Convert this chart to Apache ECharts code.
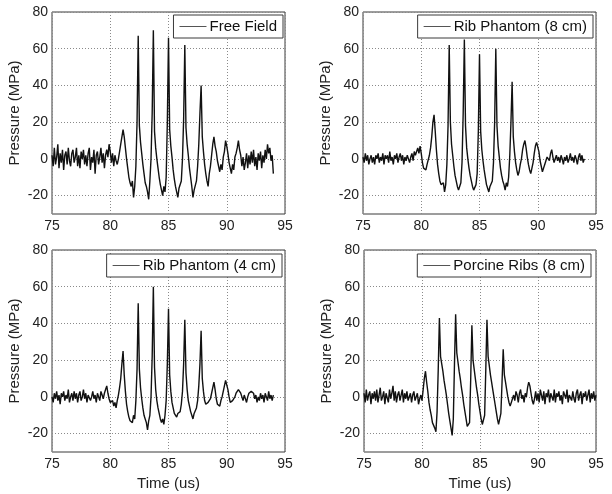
<!DOCTYPE html>
<html><head><meta charset="utf-8">
<script src="https://cdn.jsdelivr.net/npm/echarts@6/dist/echarts.min.js"></script>
<style>html,body{margin:0;padding:0;background:#fff}#c{width:612px;height:494px}</style>
</head><body><div id="c"></div><script>
// Sample times (us)
const TIME_US = [
75.0,75.1,75.2,75.3,75.4,75.5,75.6,75.7,75.8,75.9,
76.0,76.1,76.2,76.3,76.4,76.5,76.6,76.7,76.8,76.9,
77.0,77.1,77.2,77.3,77.4,77.5,77.6,77.7,77.8,77.9,
78.0,78.1,78.2,78.3,78.4,78.5,78.6,78.7,78.8,78.9,
79.0,79.1,79.2,79.3,79.4,79.5,79.6,79.7,79.8,79.9,
80.0,80.1,80.2,80.3,80.4,80.5,80.6,80.7,80.8,80.9,
81.0,81.1,81.2,81.3,81.4,81.5,81.6,81.7,81.8,81.9,
82.0,82.1,82.2,82.3,82.4,82.5,82.6,82.7,82.8,82.9,
83.0,83.1,83.2,83.3,83.4,83.5,83.6,83.7,83.8,83.9,
84.0,84.1,84.2,84.3,84.4,84.5,84.6,84.7,84.8,84.9,
85.0,85.1,85.2,85.3,85.4,85.5,85.6,85.7,85.8,85.9,
86.0,86.1,86.2,86.3,86.4,86.5,86.6,86.7,86.8,86.9,
87.0,87.1,87.2,87.3,87.4,87.5,87.6,87.7,87.8,87.9,
88.0,88.1,88.2,88.3,88.4,88.5,88.6,88.7,88.8,88.9,
89.0,89.1,89.2,89.3,89.4,89.5,89.6,89.7,89.8,89.9,
90.0,90.1,90.2,90.3,90.4,90.5,90.6,90.7,90.8,90.9,
91.0,91.1,91.2,91.3,91.4,91.5,91.6,91.7,91.8,91.9,
92.0,92.1,92.2,92.3,92.4,92.5,92.6,92.7,92.8,92.9,
93.0,93.1,93.2,93.3,93.4,93.5,93.6,93.7,93.8,93.9,
94.0,94.1,94.2,94.3,94.4,94.5,94.6,94.7,94.8,94.9,
95.0
];

// Pressure (MPa), one value per sample time
const FREE_FIELD = [
2,-4,6,-3,1,8,-5,3,-2,5,
-6,2,4,-3,6,-1,-4,3,5,-2,
1,6,-4,2,-5,4,0,5,-3,2,
-4,3,6,-6,1,-2,5,-8,2,4,
-3,1,6,-2,3,-5,2,5,1,8,
4,-2,3,-4,2,-1,-3,0,4,8,
12,16,12,6,0,-5,-10,-13,-15,-12,
-21,-15,-4,20,67,18,9,3,-3,-8,
-13,-15,-18,-22,-12,0,25,70,15,6,
0,-5,-10,-14,-17,-20,-15,-18,-10,20,
66,16,7,1,-6,-11,-15,-18,-21,-16,
-17,-12,0,22,62,17,8,2,-5,-10,
-15,-21,-17,-18,-12,-4,8,25,40,12,
4,-3,-8,-12,-15,-8,-4,2,8,12,
7,4,-1,-4,-7,-3,-6,1,4,10,
7,3,-2,-5,-8,-3,-6,1,3,6,
10,5,2,-4,1,-6,-2,3,-5,2,
-3,4,-2,5,-4,1,-6,3,-1,4,
-5,2,-2,5,0,8,3,6,-1,2,
-8
];

const RIB_PHANTOM_8CM = [
1,-2,3,-1,2,-3,0,2,-2,1,
-3,2,0,3,-2,1,-1,3,-3,2,
0,2,-2,4,-1,1,-3,2,0,3,
-2,1,3,-1,2,-3,1,-1,2,0,
-2,1,3,-1,4,2,1,6,3,7,
3,-2,-5,-4,-6,-3,-2,2,6,12,
20,24,15,5,-3,-8,-12,-14,-15,-13,
-18,-14,-3,18,62,20,8,2,-4,-9,
-12,-15,-17,-16,-13,-2,25,65,18,6,
0,-5,-9,-12,-15,-17,-18,-14,-8,15,
57,15,5,-1,-6,-10,-14,-16,-18,-15,
-16,-12,-2,20,60,18,7,1,-5,-9,
-12,-14,-17,-13,-15,-10,2,20,42,12,
4,-2,-6,-9,-7,-3,0,5,8,10,
6,1,-3,-6,-8,-5,-2,3,7,9,
8,4,-1,-4,-7,-5,-3,-1,1,2,
-1,3,5,1,-2,-3,2,-1,1,-2,
2,0,-3,1,-1,2,-2,0,3,-1,
1,-2,2,0,-3,1,3,-1,2,-2,
0
];

const RIB_PHANTOM_4CM = [
0,-3,2,-1,3,-2,1,-4,2,0,
3,-2,1,-1,4,-3,0,2,-2,3,
-1,2,-3,1,3,-2,0,4,-1,2,
-3,1,2,-2,0,3,-1,1,-3,2,
0,-2,3,1,-1,2,4,6,2,-1,
-3,-4,-2,-5,-3,-6,-2,1,5,10,
18,25,12,3,-4,-8,-11,-13,-12,-14,
-10,-12,-2,15,51,15,5,-1,-6,-10,
-12,-14,-18,-13,-10,0,22,60,16,4,
-2,-6,-9,-12,-14,-12,-15,-10,-2,18,
48,12,3,-3,-6,-9,-10,-11,-9,-10,
-8,-4,3,18,42,13,4,-2,-5,-8,
-10,-12,-9,-10,-6,-2,6,18,36,10,
3,-2,-4,-5,-3,-4,-1,2,5,8,
4,-1,-4,-3,-5,-2,0,3,6,9,
8,4,0,-3,-4,-2,-3,0,2,1,
4,5,2,0,-2,1,-1,-3,0,2,
1,3,4,2,-1,1,-3,0,-2,2,
-1,1,-3,2,0,-2,3,-1,1,-2,
1
];

const PORCINE_RIBS_8CM = [
2,-3,4,-2,1,3,-4,2,-1,3,
-2,4,-3,1,5,-2,0,3,-4,2,
1,-3,4,-1,2,6,-2,3,-3,1,
3,-2,1,4,-3,2,-1,3,-2,0,
2,-3,1,3,-2,0,2,-4,-1,1,
-2,4,10,14,8,3,-3,-7,-10,-14,
-15,-17,-19,-8,15,43,22,18,14,9,
5,1,-4,-9,-13,-17,-21,-12,18,45,
24,19,14,10,5,1,-4,-8,-12,-16,
-17,-14,10,39,20,15,10,5,1,-4,
-8,-12,-15,-16,-10,15,42,22,17,12,
8,4,0,-4,-8,-12,-15,-16,-9,8,
26,12,8,4,0,-3,-5,-4,-1,1,
-2,3,1,-3,2,4,-1,1,-3,2,
0,5,8,6,2,-2,-4,-1,3,-2,
2,-3,4,1,-2,3,-4,2,0,4,
-3,2,1,-2,4,-3,2,0,3,-2,
1,-4,3,2,-1,4,-3,1,2,-2,
3,-1,-3,2,4,-2,1,3,-4,2,
0,3,-2,1,4,-3,2,-1,3,-2,
1
];

const SERIES_NAMES = ['Free Field', 'Rib Phantom (8 cm)', 'Rib Phantom (4 cm)', 'Porcine Ribs (8 cm)'];
const SERIES_VALUES = [FREE_FIELD, RIB_PHANTOM_8CM, RIB_PHANTOM_4CM, PORCINE_RIBS_8CM];
const Y_TICKS = [-20, 0, 20, 40, 60, 80];
const X_NAME = 'Time (us)';
const Y_NAME = 'Pressure (MPa)';

const GRIDS = [
  {left: 52, top: 12, width: 233, height: 202},
  {left: 363, top: 12, width: 233, height: 202},
  {left: 52, top: 250, width: 233, height: 202},
  {left: 364, top: 250, width: 232, height: 202}
];
const LEGEND_POS = [
  {right: 329, top: 15},
  {right: 19, top: 15},
  {right: 330, top: 254},
  {right: 21, top: 254}
];

const FONT = 'Liberation Sans, Arial, Helvetica, sans-serif';
const chart = echarts.init(document.getElementById('c'), null, {renderer: 'canvas'});

const option = {
  animation: false,
  backgroundColor: '#fff',
  grid: GRIDS.map(g => Object.assign({show: true, borderColor: '#3a3a3a', borderWidth: 1, backgroundColor: '#fff', containLabel: false}, g)),
  xAxis: GRIDS.map((g, i) => ({
    type: 'value', gridIndex: i, min: 75, max: 95, interval: 5,
    name: i >= 2 ? X_NAME : '', nameLocation: 'middle', nameGap: 24,
    nameTextStyle: {fontFamily: FONT, fontSize: 15, color: '#222'},
    axisLine: {show: false}, axisTick: {show: false},
    axisLabel: {fontFamily: FONT, fontSize: 14, color: '#222', margin: 5},
    splitLine: {show: true, lineStyle: {type: [1, 2], color: '#8a8a8a', width: 1}}
  })),
  yAxis: GRIDS.map((g, i) => ({
    type: 'value', gridIndex: i, min: -30, max: 80,
    name: Y_NAME, nameLocation: 'middle', nameGap: 30,
    nameTextStyle: {fontFamily: FONT, fontSize: 15, color: '#222'},
    axisLine: {show: false},
    axisTick: {show: false, customValues: Y_TICKS},
    axisLabel: {fontFamily: FONT, fontSize: 14, color: '#222', margin: 4, customValues: Y_TICKS},
    splitLine: {show: true, lineStyle: {type: [1, 2], color: '#8a8a8a', width: 1}}
  })),
  legend: SERIES_NAMES.map((n, i) => Object.assign({
    data: [n], orient: 'horizontal', icon: 'rect', itemWidth: 27, itemHeight: 1,
    padding: [4, 6, 4, 6], borderColor: '#3a3a3a', borderWidth: 1, borderRadius: 0,
    backgroundColor: '#fff',
    textStyle: {fontFamily: FONT, fontSize: 15, color: '#111', padding: [0, 0, 0, -2]}
  }, LEGEND_POS[i])),
  series: SERIES_VALUES.map((vals, i) => ({
    name: SERIES_NAMES[i], type: 'line', xAxisIndex: i, yAxisIndex: i,
    showSymbol: false, symbol: 'none', clip: true,
    lineStyle: {color: '#111', width: 1.4},
    itemStyle: {color: '#555'},
    data: vals.map((v, k) => [TIME_US[k], v])
  }))
};
chart.setOption(option);
</script></body></html>
